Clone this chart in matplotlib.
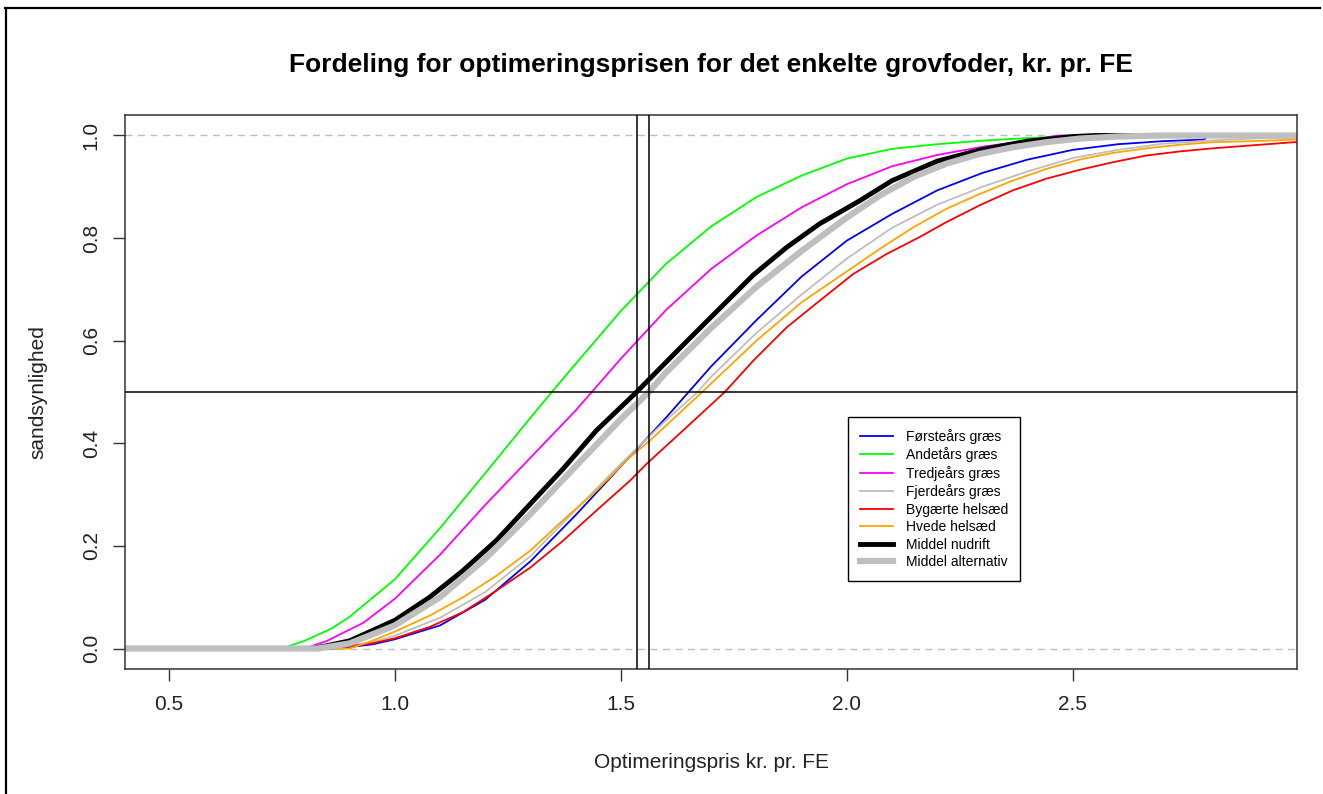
import matplotlib
matplotlib.use("Agg")
import matplotlib.pyplot as plt
from matplotlib.lines import Line2D

plt.rcParams['font.family'] = ['Liberation Sans', 'DejaVu Sans']

### Data (empiriske fordelingsfunktioner)
x_forste  = [0.87, 0.95, 1.0, 1.1, 1.2, 1.3, 1.4, 1.5, 1.6, 1.65, 1.7, 1.8, 1.9, 2.0, 2.1, 2.2, 2.3, 2.4, 2.5, 2.6, 2.7, 2.79, 2.80]
y_forste  = [0.0, 0.008, 0.018, 0.045, 0.095, 0.17, 0.26, 0.355, 0.45, 0.50, 0.55, 0.64, 0.725, 0.795, 0.847, 0.893, 0.927, 0.953, 0.972, 0.983, 0.989, 0.992, 1.0]

x_andet   = [0.75, 0.8, 0.86, 0.9, 1.0, 1.1, 1.2, 1.3, 1.35, 1.4, 1.5, 1.6, 1.7, 1.8, 1.9, 2.0, 2.1, 2.2, 2.3, 2.4, 2.5, 2.55]
y_andet   = [0.0, 0.015, 0.039, 0.062, 0.135, 0.235, 0.342, 0.45, 0.503, 0.555, 0.658, 0.75, 0.823, 0.88, 0.922, 0.955, 0.974, 0.983, 0.99, 0.995, 0.999, 1.0]

x_tredje  = [0.8, 0.85, 0.93, 1.0, 1.1, 1.2, 1.3, 1.4, 1.5, 1.6, 1.7, 1.8, 1.9, 2.0, 2.1, 2.2, 2.3, 2.4, 2.47]
y_tredje  = [0.0, 0.015, 0.05, 0.097, 0.183, 0.28, 0.372, 0.464, 0.565, 0.66, 0.74, 0.805, 0.86, 0.905, 0.94, 0.962, 0.978, 0.99, 1.0]

x_fjerde  = [0.85, 0.95, 1.0, 1.1, 1.2, 1.3, 1.4, 1.5, 1.6, 1.67, 1.7, 1.8, 1.9, 2.0, 2.1, 2.2, 2.3, 2.4, 2.5, 2.6, 2.7, 2.8, 2.9, 2.99]
y_fjerde  = [0.0, 0.012, 0.025, 0.06, 0.11, 0.18, 0.27, 0.36, 0.445, 0.5, 0.53, 0.615, 0.69, 0.76, 0.82, 0.865, 0.9, 0.93, 0.956, 0.972, 0.984, 0.99, 0.994, 0.996]

x_byg     = [0.86, 0.95, 1.0, 1.077, 1.151, 1.225, 1.3, 1.372, 1.446, 1.52, 1.557, 1.645, 1.73, 1.793, 1.867, 1.94, 2.014, 2.088, 2.161, 2.22, 2.294, 2.367, 2.442, 2.515, 2.589, 2.663, 2.737, 2.81, 2.885, 2.99]
y_byg     = [0.0, 0.01, 0.02, 0.042, 0.071, 0.113, 0.158, 0.21, 0.269, 0.327, 0.36, 0.431, 0.5, 0.561, 0.626, 0.678, 0.73, 0.769, 0.802, 0.831, 0.864, 0.893, 0.916, 0.933, 0.948, 0.961, 0.969, 0.975, 0.98, 0.987]

x_hvede   = [0.9, 0.95, 1.0, 1.077, 1.151, 1.225, 1.3, 1.372, 1.446, 1.52, 1.564, 1.68, 1.8, 1.9, 2.0, 2.073, 2.147, 2.22, 2.294, 2.367, 2.442, 2.515, 2.589, 2.663, 2.737, 2.81, 2.9, 2.99]
y_hvede   = [0.0, 0.015, 0.033, 0.064, 0.10, 0.142, 0.191, 0.25, 0.308, 0.373, 0.405, 0.5, 0.6, 0.675, 0.735, 0.779, 0.821, 0.857, 0.886, 0.912, 0.935, 0.953, 0.966, 0.975, 0.982, 0.987, 0.989, 0.992]

x_nudrift = [0.82, 0.9, 1.0, 1.077, 1.151, 1.225, 1.3, 1.372, 1.446, 1.535, 1.6, 1.645, 1.719, 1.793, 1.867, 1.94, 2.029, 2.1, 2.2, 2.3, 2.4, 2.5, 2.55]
y_nudrift = [0.0, 0.015, 0.055, 0.10, 0.152, 0.211, 0.282, 0.35, 0.425, 0.5, 0.558, 0.598, 0.663, 0.728, 0.782, 0.828, 0.873, 0.912, 0.95, 0.973, 0.989, 0.998, 1.0]

x_altern  = [0.83, 0.9, 1.0, 1.1, 1.2, 1.3, 1.4, 1.5, 1.562, 1.6, 1.7, 1.8, 1.9, 2.0, 2.073, 2.147, 2.22, 2.294, 2.367, 2.442, 2.515, 2.6, 2.7]
y_altern  = [0.0, 0.01, 0.045, 0.1, 0.175, 0.262, 0.355, 0.447, 0.5, 0.538, 0.625, 0.705, 0.775, 0.84, 0.883, 0.919, 0.945, 0.964, 0.977, 0.987, 0.994, 0.998, 1.0]

labels   = ['Førsteårs græs', 'Andetårs græs', 'Tredjeårs græs', 'Fjerdeårs græs',
            'Bygærte helsæd', 'Hvede helsæd', 'Middel nudrift', 'Middel alternativ']
farver   = ['#0000FF', '#00FF00', '#FF00FF', '#BEBEBE', '#FF0000', '#FFA500', 'black', '#BEBEBE']
bredder  = [1.3, 1.3, 1.3, 1.3, 1.3, 1.3, 3.5, 4.5]

median_nudrift = 1.535
median_altern  = 1.562

serier = [(x_forste, y_forste), (x_andet, y_andet), (x_tredje, y_tredje), (x_fjerde, y_fjerde),
          (x_byg, y_byg), (x_hvede, y_hvede), (x_nudrift, y_nudrift), (x_altern, y_altern)]

xlo, xhi = 0.403, 2.996

### Figur
fig = plt.figure(figsize=(13.23, 7.94), dpi=100)
ax = fig.add_axes([0.0945, 0.1574, 0.8858, 0.6978])

ax.axhline(0, color='#BEBEBE', lw=1, ls=(0, (5, 4)), zorder=1)
ax.axhline(1, color='#BEBEBE', lw=1, ls=(0, (5, 4)), zorder=1)

for (xs, ys), lab, c, w in zip(serier, labels, farver, bredder):
    # ecdf-kurverne forlænges vandret ud til kanterne som i R
    ax.plot([xlo] + xs + [xhi], [0] + ys + [ys[-1]], color=c, lw=w, label=lab, zorder=2)

ax.axvline(median_nudrift, color='black', lw=1.1, zorder=3)
ax.axvline(median_altern, color='black', lw=1.1, zorder=3)
ax.axhline(0.5, color='black', lw=1.1, zorder=3)

ax.set_xlim(xlo, xhi)
ax.set_ylim(-0.04, 1.04)
ax.set_xticks([0.5, 1.0, 1.5, 2.0, 2.5])
ax.set_yticks([0.0, 0.2, 0.4, 0.6, 0.8, 1.0])
ax.set_xticklabels(['0.5', '1.0', '1.5', '2.0', '2.5'])
ax.set_yticklabels(['0.0', '0.2', '0.4', '0.6', '0.8', '1.0'], rotation=90, va='center')
ax.tick_params(axis='both', direction='out', length=8.5, width=1, color='#333333',
               labelsize=15, labelcolor='#222222')
ax.tick_params(axis='x', pad=10)
ax.tick_params(axis='y', pad=9)
for s in ax.spines.values():
    s.set_color('#333333')
    s.set_linewidth(1.1)

fig.text(711/1323, 1 - 65/794, 'Fordeling for optimeringsprisen for det enkelte grovfoder, kr. pr. FE',
         ha='center', va='center', fontsize=19, fontweight='bold')
fig.text(711/1323, 1 - 762/794, 'Optimeringspris kr. pr. FE', ha='center', va='center',
         fontsize=15, color='#222222')
fig.text(38/1323, 1 - 392/794, 'sandsynlighed', ha='center', va='center', rotation=90,
         fontsize=15, color='#222222')

leg = ax.legend(loc='upper left', bbox_to_anchor=(0.617, 0.455), borderaxespad=0,
                fontsize=10, frameon=True, fancybox=False, framealpha=1, edgecolor='black',
                handlelength=2.4, handletextpad=0.9, labelspacing=0.25, borderpad=0.85)
leg.get_frame().set_linewidth(1.0)

# ydre ramme
fig.add_artist(Line2D([5/1323, 1320/1323], [1 - 8/794, 1 - 8/794], color='black', lw=1.6))
fig.add_artist(Line2D([6/1323, 6/1323], [0, 1 - 8/794], color='black', lw=1.6))

fig.savefig('out.png', dpi=100)
